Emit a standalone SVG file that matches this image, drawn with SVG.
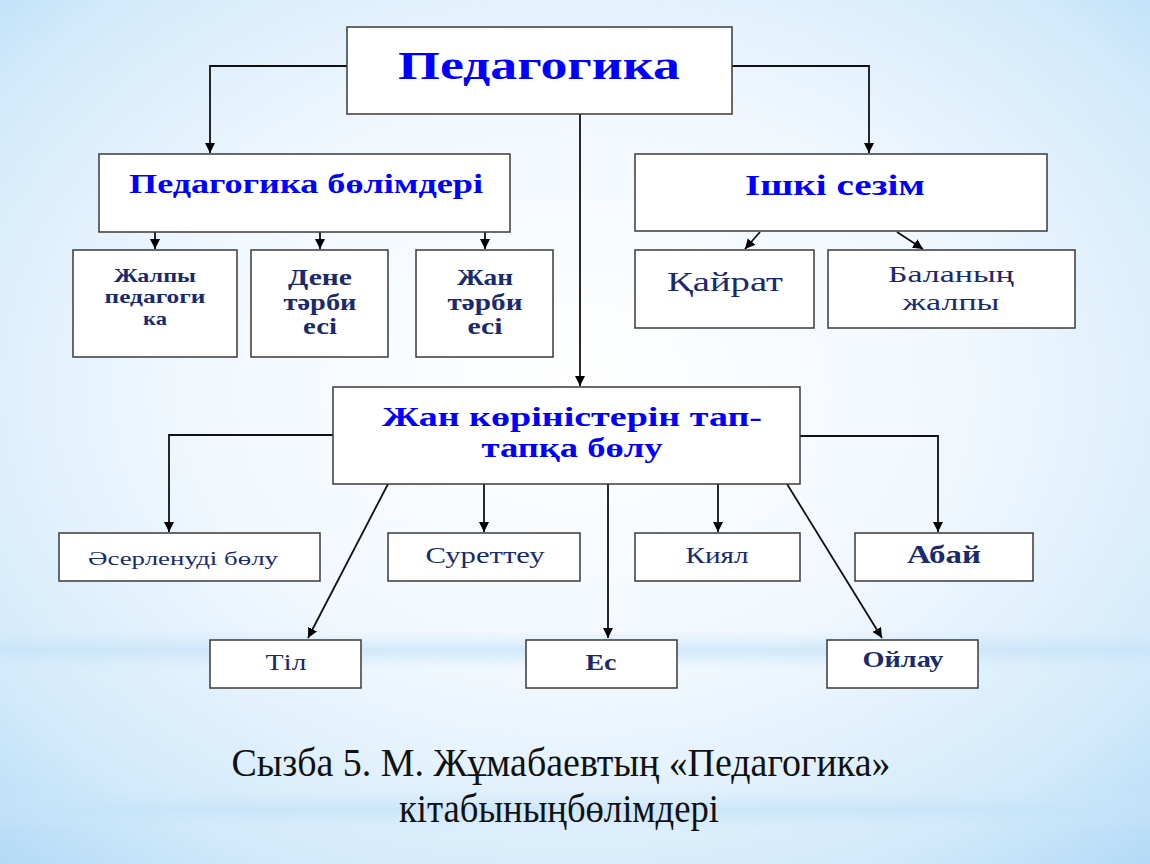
<svg xmlns="http://www.w3.org/2000/svg" width="1150" height="864" viewBox="0 0 1150 864">
<defs>
  <radialGradient id="bg" cx="50%" cy="45%" r="75%">
    <stop offset="0" stop-color="#ffffff"/>
    <stop offset="0.45" stop-color="#f1f8fe"/>
    <stop offset="0.8" stop-color="#d2eafb"/>
    <stop offset="1" stop-color="#b3d9f5"/>
  </radialGradient>
  <linearGradient id="streak" x1="0" y1="0" x2="0" y2="1">
    <stop offset="0" stop-color="#cfe7fa" stop-opacity="0"/>
    <stop offset="0.5" stop-color="#c4e2f8" stop-opacity="0.7"/>
    <stop offset="1" stop-color="#cfe7fa" stop-opacity="0"/>
  </linearGradient>
  <marker id="arr" markerUnits="userSpaceOnUse" markerWidth="12" markerHeight="12" refX="10" refY="5" orient="auto">
    <path d="M0,0 L10,5 L0,10 z" fill="#000"/>
  </marker>
  <style>
    .box { fill: #ffffff; stroke: #3a3a3a; stroke-width: 1.5; }
    .ln { fill: none; stroke: #111; stroke-width: 1.8; }
    .ar { marker-end: url(#arr); }
    .h { font-family: "Liberation Serif", "Times New Roman", serif; font-weight: bold; fill: #0000ff; text-anchor: middle; }
    .t { font-family: "Liberation Serif", "Times New Roman", serif; fill: #1a2a6e; text-anchor: middle; }
    .b { font-weight: bold; }
    .cap { font-family: "Liberation Serif", "Times New Roman", serif; fill: #111; text-anchor: middle; font-size: 39px; }
  </style>
</defs>
<rect x="0" y="0" width="1150" height="864" fill="url(#bg)"/>
<rect x="0" y="630" width="1150" height="40" fill="url(#streak)"/>
<rect x="0" y="790" width="1150" height="40" fill="url(#streak)"/>

<g id="connectors">
  <polyline class="ln ar" points="347,66 210,66 210,153"/>
  <polyline class="ln ar" points="732,66 869,66 869,153"/>
  <line class="ln ar" x1="580" y1="114" x2="580" y2="386"/>
  <line class="ln ar" x1="155" y1="232" x2="155" y2="249"/>
  <line class="ln ar" x1="320" y1="232" x2="320" y2="249"/>
  <line class="ln ar" x1="485" y1="232" x2="485" y2="249"/>
  <line class="ln ar" x1="760" y1="232" x2="745" y2="249"/>
  <line class="ln ar" x1="897" y1="232" x2="923" y2="249"/>
  <polyline class="ln ar" points="333,435 169,435 169,532"/>
  <polyline class="ln ar" points="800,436 938,436 938,532"/>
  <line class="ln ar" x1="484" y1="484" x2="484" y2="532"/>
  <line class="ln ar" x1="718" y1="484" x2="718" y2="532"/>
  <line class="ln ar" x1="608" y1="484" x2="608" y2="638"/>
  <line class="ln ar" x1="388" y1="484" x2="308" y2="638"/>
  <line class="ln ar" x1="787" y1="484" x2="882" y2="638"/>
</g>

<g id="node-pedagogika">
  <rect class="box" x="347" y="27" width="385" height="87"/>
  <text class="h" x="539" y="79" font-size="40" textLength="282" lengthAdjust="spacingAndGlyphs">Педагогика</text>
</g>
<g id="node-bolimderi">
  <rect class="box" x="99" y="154" width="411" height="78"/>
  <text class="h" x="306" y="193" font-size="28" textLength="354" lengthAdjust="spacingAndGlyphs">Педагогика бөлімдері</text>
</g>
<g id="node-ishki">
  <rect class="box" x="635" y="154" width="412" height="77"/>
  <text class="h" x="835" y="195" font-size="29" textLength="180" lengthAdjust="spacingAndGlyphs">Ішкі сезім</text>
</g>
<g id="node-zhalpy">
  <rect class="box" x="73" y="250" width="164" height="107"/>
  <text class="t b" x="155" y="282" font-size="19" textLength="82" lengthAdjust="spacingAndGlyphs">Жалпы</text>
  <text class="t b" x="155" y="303" font-size="19" textLength="101" lengthAdjust="spacingAndGlyphs">педагоги</text>
  <text class="t b" x="155" y="325" font-size="19" textLength="24" lengthAdjust="spacingAndGlyphs">ка</text>
</g>
<g id="node-dene">
  <rect class="box" x="251" y="250" width="137" height="107"/>
  <text class="t b" x="320" y="285" font-size="23" textLength="64" lengthAdjust="spacingAndGlyphs">Дене</text>
  <text class="t b" x="320" y="310" font-size="23" textLength="73" lengthAdjust="spacingAndGlyphs">тәрби</text>
  <text class="t b" x="320" y="334" font-size="23" textLength="34" lengthAdjust="spacingAndGlyphs">есі</text>
</g>
<g id="node-zhan">
  <rect class="box" x="416" y="250" width="137" height="107"/>
  <text class="t b" x="485" y="285" font-size="23" textLength="56" lengthAdjust="spacingAndGlyphs">Жан</text>
  <text class="t b" x="485" y="310" font-size="23" textLength="75" lengthAdjust="spacingAndGlyphs">тәрби</text>
  <text class="t b" x="485" y="334" font-size="23" textLength="35" lengthAdjust="spacingAndGlyphs">есі</text>
</g>
<g id="node-kairat">
  <rect class="box" x="635" y="250" width="179" height="78"/>
  <text class="t" x="725" y="291" font-size="28" textLength="116" lengthAdjust="spacingAndGlyphs">Қайрат</text>
</g>
<g id="node-balanyn">
  <rect class="box" x="828" y="250" width="247" height="78"/>
  <text class="t" x="951" y="282" font-size="23" textLength="126" lengthAdjust="spacingAndGlyphs">Баланың</text>
  <text class="t" x="951" y="310" font-size="23" textLength="97" lengthAdjust="spacingAndGlyphs">жалпы</text>
</g>
<g id="node-zhan-korinis">
  <rect class="box" x="333" y="387" width="467" height="97"/>
  <text class="h" x="572" y="426" font-size="27" textLength="380" lengthAdjust="spacingAndGlyphs">Жан көріністерін тап-</text>
  <text class="h" x="572" y="457" font-size="27" textLength="181" lengthAdjust="spacingAndGlyphs">тапқа бөлу</text>
</g>
<g id="node-aserlenudi">
  <rect class="box" x="59" y="533" width="261" height="48"/>
  <text class="t" x="183" y="565" font-size="18" textLength="190" lengthAdjust="spacingAndGlyphs">Әсерленуді бөлу</text>
</g>
<g id="node-surettey">
  <rect class="box" x="388" y="533" width="192" height="48"/>
  <text class="t" x="485" y="563" font-size="24" textLength="119" lengthAdjust="spacingAndGlyphs">Суреттеу</text>
</g>
<g id="node-kiyal">
  <rect class="box" x="635" y="533" width="165" height="48"/>
  <text class="t" x="717" y="563" font-size="24" textLength="63" lengthAdjust="spacingAndGlyphs">Киял</text>
</g>
<g id="node-abai">
  <rect class="box" x="855" y="533" width="178" height="48"/>
  <text class="t b" x="944" y="563" font-size="25" textLength="74" lengthAdjust="spacingAndGlyphs">Абай</text>
</g>
<g id="node-til">
  <rect class="box" x="210" y="640" width="151" height="48"/>
  <text class="t" x="286" y="670" font-size="23" textLength="41" lengthAdjust="spacingAndGlyphs">Тіл</text>
</g>
<g id="node-es">
  <rect class="box" x="526" y="640" width="151" height="48"/>
  <text class="t b" x="601" y="670" font-size="24" textLength="31" lengthAdjust="spacingAndGlyphs">Ес</text>
</g>
<g id="node-oilau">
  <rect class="box" x="827" y="640" width="151" height="48"/>
  <text class="t b" x="903" y="667" font-size="24" textLength="81" lengthAdjust="spacingAndGlyphs">Ойлау</text>
</g>

<g id="caption">
  <text class="cap" x="561" y="776" textLength="659" lengthAdjust="spacingAndGlyphs">Сызба 5. М. Жұмабаевтың «Педагогика»</text>
  <text class="cap" x="559" y="822" textLength="320" lengthAdjust="spacingAndGlyphs">кітабыныңбөлімдері</text>
</g>
</svg>
